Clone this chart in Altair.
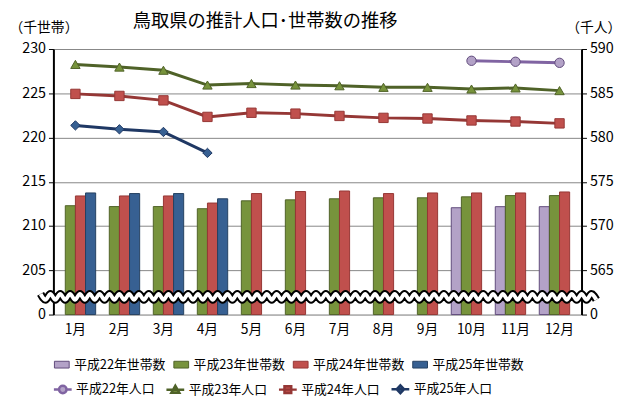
import altair as alt
import pandas as pd
import numpy as np

months = ["1月", "2月", "3月", "4月", "5月", "6月", "7月", "8月", "9月", "10月", "11月", "12月"]

hh_names = ["平成22年世帯数", "平成23年世帯数", "平成24年世帯数", "平成25年世帯数"]
pop_names = ["平成22年人口", "平成23年人口", "平成24年人口", "平成25年人口"]

hh22 = [None, None, None, None, None, None, None, None, None, 212.07, 212.19, 212.19]
hh23 = [212.3, 212.2, 212.2, 211.96, 212.85, 212.96, 213.08, 213.19, 213.19, 213.3, 213.44, 213.44]
hh24 = [213.4, 213.4, 213.4, 212.6, 213.67, 213.9, 213.96, 213.67, 213.74, 213.74, 213.74, 213.85]
hh25 = [213.74, 213.67, 213.67, 213.08, None, None, None, None, None, None, None, None]

pop22 = [None, None, None, None, None, None, None, None, None, 588.67, 588.56, 588.44]
pop23 = [588.26, 587.96, 587.6, 585.93, 586.1, 585.93, 585.85, 585.67, 585.67, 585.48, 585.6, 585.3]
pop24 = [584.93, 584.7, 584.2, 582.33, 582.8, 582.7, 582.44, 582.22, 582.15, 581.93, 581.81, 581.6]
pop25 = [581.37, 580.93, 580.63, 578.26, None, None, None, None, None, None, None, None]

left_ticks = [200, 205, 210, 215, 220, 225, 230]
right_ticks = [560, 565, 570, 575, 580, 585, 590]

hh_fill = ["#b3a2c7", "#77933c", "#c0504d", "#376092"]
hh_stroke = ["#604a7b", "#4f6228", "#953735", "#254061"]
pop_fill = ["#b3a2c7", "#77933c", "#c0504d", "#376092"]
pop_stroke = ["#604a7b", "#4f6228", "#953735", "#1f3864"]
line_color = ["#8064a2", "#4f6228", "#953735", "#1f3864"]


def long(names, series):
    rows = []
    for n, s in zip(names, series):
        for m, v in zip(months, s):
            if v is not None:
                rows.append({"month": m, "series": n, "value": v})
    return pd.DataFrame(rows)


hh_df = long(hh_names, [hh22, hh23, hh24, hh25])
pop_df = long(pop_names, [pop22, pop23, pop24, pop25])

# wavy axis-break decoration
n_half = 114
zx = np.linspace(-13 / 535, 1 + 15 / 535, n_half)
zy = 202 + 0.33 * np.where(np.arange(n_half) % 2 == 0, 1, -1)
zig_df = pd.DataFrame({"zx": zx, "zy": zy})

# legend symbol shapes (line + marker)
rect = "M-0.83,-0.38H0.83V0.38H-0.83Z"
circ = "M-1,0H-0.42M0.42,0H1M-0.42,0A0.42,0.42 0 1,0 0.42,0A0.42,0.42 0 1,0 -0.42,0Z"
tri = "M-1,0H1M-0.45,0.35L0,-0.45L0.45,0.35Z"
sq = "M-1,0H1M-0.38,-0.38H0.38V0.38H-0.38Z"
dia = "M-1,0H1M0,-0.45L0.42,0L0,0.45L-0.42,0Z"

FONT = "Noto Sans CJK JP"


def mk_legend(y, sw, stype=None):
    kw = dict(title=None, orient="none", legendX=-1, legendY=y, columns=4, direction="horizontal",
              symbolSize=324, labelFontSize=13, labelFont=FONT, labelColor="black", labelLimit=300,
              labelOffset=3, columnPadding=6, symbolOpacity=1, symbolStrokeWidth=sw)
    if stype:
        kw["symbolType"] = stype
    return alt.Legend(**kw)


x_scale = alt.Scale(domain=months, paddingInner=0.08, paddingOuter=0.04)
x_axis = alt.Axis(title=None, labelAngle=0, ticks=False, domain=False, labelFontSize=14,
                  labelFont=FONT, labelColor="black", labelPadding=8, grid=False)
x_enc = alt.X("month:N", sort=months, scale=x_scale, axis=x_axis)
x_enc_noaxis = alt.X("month:N", sort=months, scale=x_scale, axis=None)
y_pop_scale = alt.Scale(domain=[560, 590], zero=False, nice=False)

bars = alt.Chart(hh_df).mark_bar(strokeWidth=1).encode(
    x=x_enc,
    xOffset=alt.XOffset("series:N", scale=alt.Scale(domain=hh_names)),
    y=alt.Y("value:Q", scale=alt.Scale(domain=[200, 230], zero=False, nice=False),
            axis=alt.Axis(orient="left", values=left_ticks,
                          labelExpr="datum.value == 200 ? '0' : datum.label",
                          title="（千世帯）", titleAngle=0, titleAlign="left", titleBaseline="middle",
                          titleX=-45, titleY=-22, titleFontSize=14, titleFontWeight="normal",
                          titleFont=FONT, titleColor="black",
                          labelFontSize=14.5, labelFont=FONT, labelColor="black", labelPadding=3,
                          tickSize=5, tickColor="black", domainColor="black", domainWidth=2,
                          grid=True, gridColor="#868686", gridWidth=1)),
    y2=alt.datum(200),
    fill=alt.Fill("series:N", scale=alt.Scale(domain=hh_names, range=hh_fill),
                  legend=mk_legend(310, 1, rect)),
    stroke=alt.Stroke("series:N", scale=alt.Scale(domain=hh_names, range=hh_stroke),
                      legend=mk_legend(310, 1, rect)),
)

lines = alt.Chart(pop_df).mark_line(strokeWidth=3).encode(
    x=x_enc_noaxis,
    y=alt.Y("value:Q", scale=y_pop_scale,
            axis=alt.Axis(orient="right", values=right_ticks,
                          labelExpr="datum.value == 560 ? '0' : datum.label",
                          title="（千人）", titleAngle=0, titleAlign="left", titleBaseline="middle",
                          titleX=-16, titleY=-22, titleFontSize=14, titleFontWeight="normal",
                          titleFont=FONT, titleColor="black",
                          labelFontSize=14.5, labelFont=FONT, labelColor="black", labelPadding=3,
                          tickSize=5, tickColor="black", domainColor="black", domainWidth=2,
                          grid=False)),
    stroke=alt.Stroke("series:N", scale=alt.Scale(domain=pop_names, range=line_color), legend=None),
)

points = alt.Chart(pop_df).mark_point(filled=True, size=90, strokeWidth=1, opacity=1).encode(
    x=x_enc_noaxis,
    y=alt.Y("value:Q", scale=y_pop_scale, axis=None),
    fill=alt.Fill("series:N", scale=alt.Scale(domain=pop_names, range=pop_fill), legend=None),
    stroke=alt.Stroke("series:N", scale=alt.Scale(domain=pop_names, range=pop_stroke), legend=None),
    shape=alt.Shape("series:N", scale=alt.Scale(domain=pop_names,
                                                range=["circle", "triangle-up", "square", "diamond"]),
                    legend=None),
)

# legend-only layer for the population series (no marks drawn)
pop_leg = alt.Chart(pop_df).transform_filter("datum.value < 0").mark_point(
    filled=True, strokeWidth=2.5).encode(
    x=x_enc_noaxis,
    y=alt.Y("value:Q", scale=y_pop_scale, axis=None),
    fill=alt.Fill("series:N", scale=alt.Scale(domain=pop_names, range=pop_fill),
                  legend=mk_legend(334, 2.5)),
    stroke=alt.Stroke("series:N", scale=alt.Scale(domain=pop_names, range=line_color),
                      legend=mk_legend(334, 2.5)),
    shape=alt.Shape("series:N", scale=alt.Scale(domain=pop_names, range=[circ, tri, sq, dia]),
                    legend=mk_legend(334, 2.5)),
)

zig_x = alt.X("zx:Q", scale=alt.Scale(domain=[0, 1], nice=False, zero=False), axis=None)
zig_y = alt.Y("zy:Q", scale=alt.Scale(domain=[200, 230], nice=False, zero=False), axis=None)
zig_black = alt.Chart(zig_df).mark_line(interpolate="monotone", strokeWidth=8, color="black").encode(
    x=zig_x, y=zig_y)
zig_white = alt.Chart(zig_df).mark_line(interpolate="monotone", strokeWidth=4, color="white").encode(
    x=zig_x, y=zig_y)

chart = alt.layer(bars, lines, points, pop_leg, zig_black, zig_white).resolve_scale(
    x="independent", y="independent", fill="independent", stroke="independent", shape="independent"
).properties(
    width=535, height=269,
    autosize=alt.AutoSizeParams(type="none"),
    padding={"left": 46, "top": 39, "right": 41, "bottom": 84},
    title=alt.Title("鳥取県の推計人口･世帯数の推移", fontSize=18.5, fontWeight="normal", font=FONT,
                    color="black", anchor="middle", frame="group", dx=-53, dy=14, offset=4),
).configure_view(fill="#f2f2f2", stroke="black", strokeWidth=2).configure(background="white")

chart.save("out.html", embed_options={"renderer": "svg", "actions": False})
